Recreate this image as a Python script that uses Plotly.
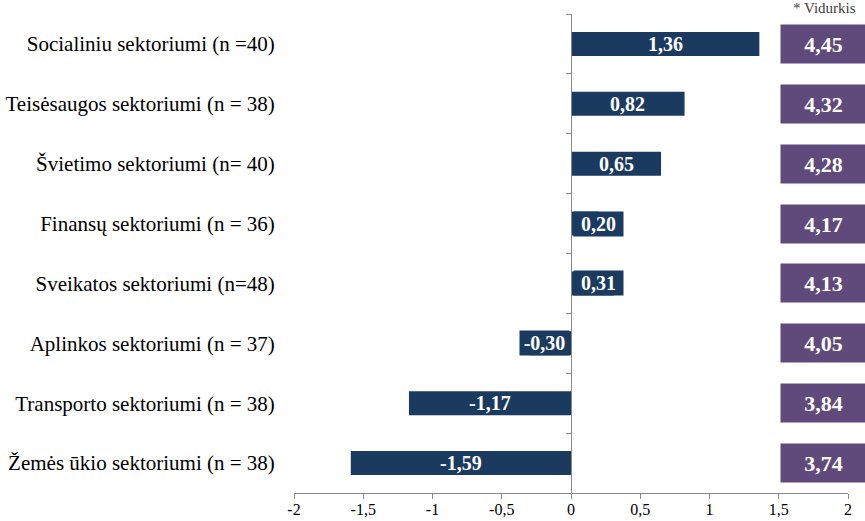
import plotly.graph_objects as go

categories = [
    "Socialiniu sektoriumi (n =40)",
    "Teisėsaugos sektoriumi (n = 38)",
    "Švietimo sektoriumi (n= 40)",
    "Finansų sektoriumi (n = 36)",
    "Sveikatos sektoriumi (n=48)",
    "Aplinkos sektoriumi (n = 37)",
    "Transporto sektoriumi (n = 38)",
    "Žemės ūkio sektoriumi (n = 38)",
]
values = [1.36, 0.82, 0.65, 0.20, 0.31, -0.30, -1.17, -1.59]
value_labels = ["1,36", "0,82", "0,65", "0,20", "0,31", "-0,30", "-1,17", "-1,59"]
averages = ["4,45", "4,32", "4,28", "4,17", "4,13", "4,05", "3,84", "3,74"]
x_ticks = [-2, -1.5, -1, -0.5, 0, 0.5, 1, 1.5, 2]
x_ticktext = ["-2", "-1,5", "-1", "-0,5", "0", "0,5", "1", "1,5", "2"]

NAVY = "#1b3a5f"
PURPLE = "#5f4a7b"
GRAY = "#8a8a8a"
FONT = "Liberation Serif"

ypos = list(range(len(categories)))

fig = go.Figure()
fig.add_trace(go.Bar(
    x=values, y=ypos, orientation="h", width=0.4,
    marker=dict(color=NAVY, line=dict(width=0)),
    hoverinfo="skip", showlegend=False,
))
# helper trace for the axis drawn at x = 0
fig.add_trace(go.Scatter(x=[0], y=[0], yaxis="y2", mode="markers",
                         marker=dict(opacity=0), hoverinfo="skip", showlegend=False))

px_per_unit = 554 / 4.0
label_box = 49
annotations = []
for yi, v, t in zip(ypos, values, value_labels):
    if abs(v) * px_per_unit >= label_box + 2:
        annotations.append(dict(
            x=v / 2, y=yi, xref="x", yref="y", text="<b>%s</b>" % t, showarrow=False,
            xanchor="center", yanchor="middle",
            font=dict(family=FONT, size=20, color="white"),
        ))
    else:
        anchor = "left" if v > 0 else "right"
        annotations.append(dict(
            x=0, y=yi, xref="x", yref="y", text="<b>%s</b>" % t, showarrow=False,
            xanchor=anchor, yanchor="middle", width=label_box, height=24,
            bgcolor=NAVY, borderpad=0, xshift=(2 if anchor == "left" else -1),
            font=dict(family=FONT, size=20, color="white"),
        ))
for yi, a in zip(ypos, averages):
    annotations.append(dict(
        x=1.51, y=yi, xref="x", yref="y", text="<b>%s</b>" % a, showarrow=False,
        xanchor="left", yanchor="middle", width=85, height=38,
        bgcolor=PURPLE, borderpad=0,
        font=dict(family=FONT, size=22, color="white"),
    ))
annotations.append(dict(
    x=1.83, y=1, xref="x", yref="paper", text="* Vidurkis", showarrow=False,
    xanchor="center", yanchor="bottom", yshift=-4,
    font=dict(family=FONT, size=15, color="#404040"),
))

fig.update_layout(
    width=865, height=521,
    margin=dict(l=294, r=17, t=14, b=28),
    paper_bgcolor="white", plot_bgcolor="white",
    font=dict(family=FONT, color="black"),
    annotations=annotations,
    xaxis=dict(
        range=[-2, 2], tickvals=x_ticks, ticktext=x_ticktext,
        showgrid=False, zeroline=False, showline=True, linecolor=GRAY, linewidth=1,
        ticks="outside", ticklen=5, tickcolor=GRAY,
        tickfont=dict(family=FONT, size=16, color="black"),
        ticklabelstandoff=-3,
        automargin=False, fixedrange=True,
    ),
    yaxis=dict(
        range=[7.5, -0.5], tickvals=ypos, ticktext=categories,
        showgrid=False, zeroline=False, showline=False,
        ticks="outside", ticklen=14, tickcolor="rgba(0,0,0,0)",
        tickfont=dict(family=FONT, size=21, color="black"),
        automargin=False, fixedrange=True,
    ),
    yaxis2=dict(
        overlaying="y", anchor="free", position=0.5, side="left",
        range=[7.5, -0.5], tickvals=[-0.5, 0.5, 1.5, 2.5, 3.5, 4.5, 5.5, 6.5],
        showticklabels=False, showgrid=False, zeroline=False,
        showline=True, linecolor=GRAY, linewidth=1,
        ticks="outside", ticklen=5, tickcolor=GRAY,
        automargin=False, fixedrange=True,
    ),
)

fig.write_html("out.html")
